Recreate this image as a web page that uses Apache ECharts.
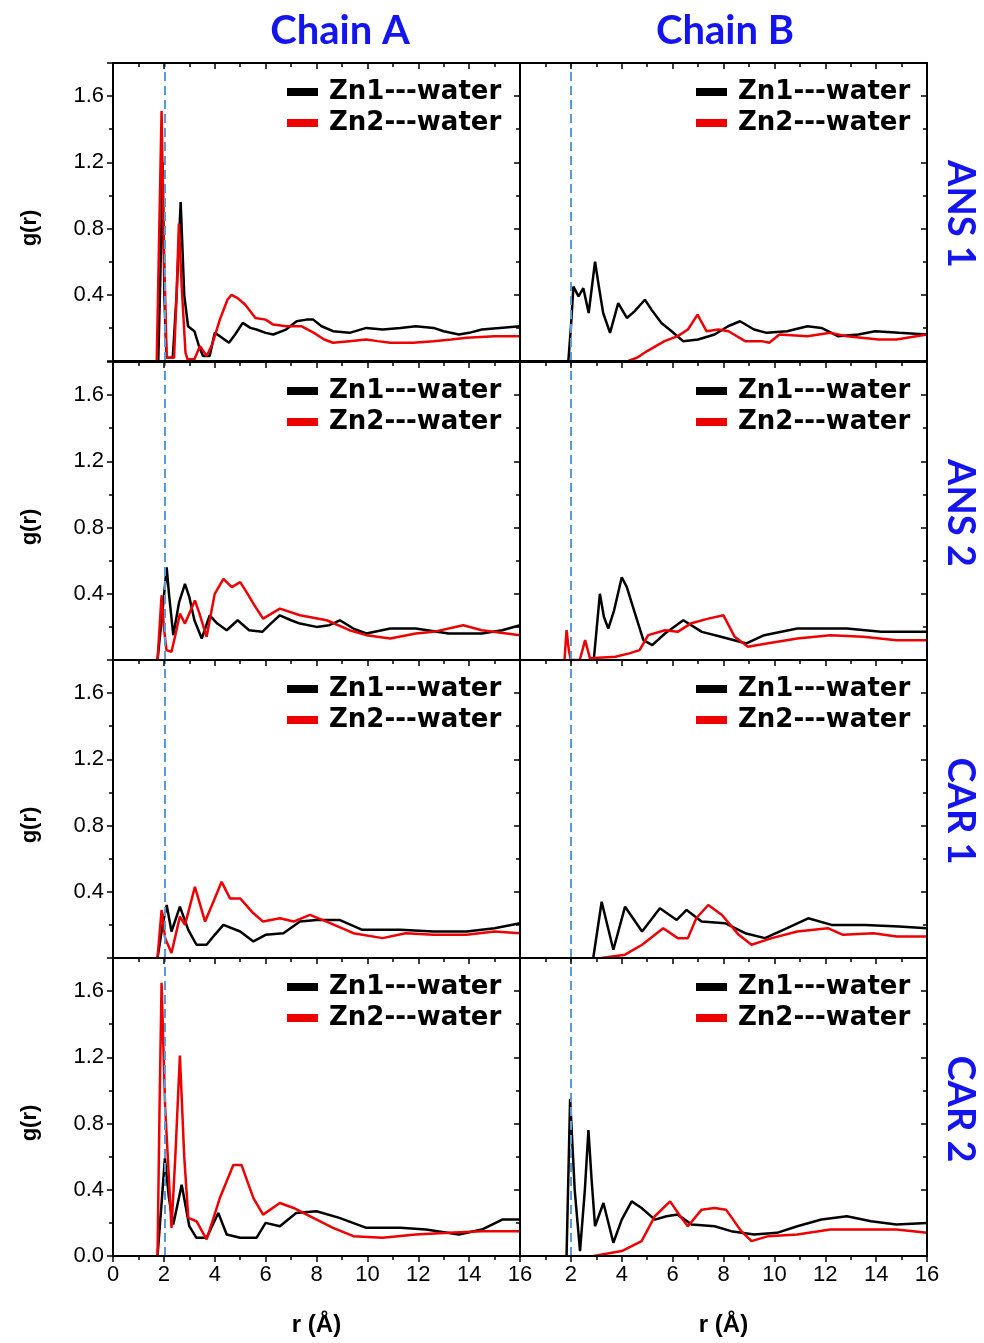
<!DOCTYPE html>
<html>
<head>
<meta charset="utf-8">
<script src="https://cdn.jsdelivr.net/npm/echarts@6/dist/echarts.min.js"></script>
<style>
  html, body { margin: 0; padding: 0; background: #fff; }
  #main { width: 984px; height: 1343px; }
</style>
</head>
<body>
<div id="main"></div>
<script>
// g(r) curves, [r (Å), g(r)] (each starts where the curve leaves zero)
const ans1A_zn1 = [[1.78, 0], [1.86, 0.5], [1.95, 1.2], [2.02, 0.4], [2.1, 0.02], [2.35, 0.02], [2.5, 0.4], [2.66, 0.96], [2.8, 0.4], [2.95, 0.21], [3.2, 0.18], [3.4, 0.08], [3.54, 0.03], [3.8, 0.03], [4.0, 0.17], [4.2, 0.15], [4.56, 0.11], [4.8, 0.16], [5.1, 0.23], [5.4, 0.2], [5.64, 0.19], [6.0, 0.17], [6.3, 0.16], [6.8, 0.19], [7.22, 0.24], [7.6, 0.25], [7.87, 0.25], [8.2, 0.21], [8.65, 0.18], [9.3, 0.17], [9.96, 0.2], [10.6, 0.19], [11.3, 0.2], [11.9, 0.21], [12.6, 0.2], [13.0, 0.18], [13.6, 0.16], [14.0, 0.17], [14.5, 0.19], [15.2, 0.2], [16, 0.21]]
const ans1A_zn2 = [[1.72, 0], [1.82, 0.8], [1.91, 1.51], [2.0, 0.7], [2.11, 0.02], [2.4, 0.02], [2.5, 0.4], [2.59, 0.83], [2.7, 0.45], [2.85, 0.05], [2.93, 0.01], [3.2, 0.01], [3.42, 0.09], [3.55, 0.06], [3.68, 0.03], [3.9, 0.1], [4.2, 0.25], [4.5, 0.37], [4.66, 0.4], [4.9, 0.38], [5.2, 0.34], [5.6, 0.26], [6.0, 0.25], [6.3, 0.22], [6.8, 0.21], [7.4, 0.21], [7.9, 0.17], [8.3, 0.13], [8.65, 0.11], [9.3, 0.12], [9.95, 0.13], [10.4, 0.12], [10.9, 0.11], [11.8, 0.11], [12.6, 0.12], [13.3, 0.13], [13.9, 0.14], [15, 0.15], [16, 0.15]]
const ans1B_zn1 = [[1.9, 0], [2.0, 0.2], [2.1, 0.45], [2.3, 0.39], [2.49, 0.44], [2.7, 0.29], [2.95, 0.6], [3.1, 0.45], [3.27, 0.29], [3.54, 0.17], [3.86, 0.35], [4.2, 0.26], [4.5, 0.3], [4.91, 0.37], [5.17, 0.31], [5.56, 0.23], [5.96, 0.18], [6.41, 0.12], [7.0, 0.13], [7.65, 0.16], [8.18, 0.21], [8.65, 0.24], [9.2, 0.19], [9.7, 0.17], [10.5, 0.18], [11.3, 0.21], [11.85, 0.2], [12.5, 0.15], [13.3, 0.16], [13.96, 0.18], [14.9, 0.17], [16, 0.16]]
const ans1B_zn2 = [[4.26, 0], [4.6, 0.02], [5.0, 0.06], [5.68, 0.12], [6.2, 0.15], [6.6, 0.19], [6.98, 0.28], [7.33, 0.18], [7.8, 0.19], [8.2, 0.18], [8.85, 0.12], [9.5, 0.12], [9.8, 0.11], [10.2, 0.16], [11.3, 0.15], [12.2, 0.17], [12.85, 0.15], [14.1, 0.13], [14.8, 0.13], [16, 0.16]]
const ans2A_zn1 = [[1.75, 0], [1.95, 0.3], [2.11, 0.56], [2.2, 0.4], [2.37, 0.15], [2.6, 0.35], [2.83, 0.46], [3.0, 0.38], [3.2, 0.24], [3.49, 0.13], [3.8, 0.27], [4.1, 0.22], [4.47, 0.18], [4.9, 0.24], [5.35, 0.18], [5.87, 0.17], [6.2, 0.22], [6.56, 0.27], [7.0, 0.24], [7.35, 0.22], [8.0, 0.2], [8.5, 0.21], [8.92, 0.24], [9.45, 0.19], [9.96, 0.16], [10.9, 0.19], [11.9, 0.19], [13.2, 0.16], [14.5, 0.16], [15.3, 0.18], [16, 0.21]]
const ans2A_zn2 = [[1.75, 0], [1.91, 0.39], [2.0, 0.2], [2.1, 0.06], [2.3, 0.05], [2.45, 0.15], [2.63, 0.28], [2.83, 0.22], [3.22, 0.36], [3.4, 0.28], [3.68, 0.14], [4.0, 0.4], [4.34, 0.49], [4.67, 0.44], [5.0, 0.47], [5.25, 0.41], [5.52, 0.34], [5.9, 0.25], [6.56, 0.31], [7.35, 0.27], [8.4, 0.24], [9.3, 0.18], [9.96, 0.15], [10.9, 0.13], [11.9, 0.16], [12.6, 0.17], [13.77, 0.21], [14.5, 0.18], [16, 0.15]]
const ans2B_zn1 = [[2.9, 0], [3.14, 0.4], [3.3, 0.26], [3.47, 0.19], [3.7, 0.3], [4.0, 0.5], [4.2, 0.44], [4.4, 0.34], [4.85, 0.12], [5.2, 0.09], [5.7, 0.16], [6.42, 0.24], [7.15, 0.17], [7.9, 0.14], [8.9, 0.1], [9.6, 0.15], [10.9, 0.19], [12.85, 0.19], [14.2, 0.17], [16, 0.17]]
const ans2B_zn2 = [[1.75, 0], [1.83, 0.18], [1.92, 0.06], [2.0, 0], [2.35, 0], [2.56, 0.12], [2.75, 0.01], [3.75, 0.02], [4.3, 0.04], [4.7, 0.06], [5.04, 0.15], [5.7, 0.18], [6.2, 0.17], [6.7, 0.22], [7.4, 0.25], [8.0, 0.27], [8.44, 0.14], [8.96, 0.08], [9.7, 0.1], [10.9, 0.13], [12.2, 0.15], [13.5, 0.14], [14.8, 0.12], [16, 0.12]]
const car1A_zn1 = [[1.75, 0], [1.95, 0.2], [2.11, 0.32], [2.3, 0.16], [2.63, 0.31], [2.96, 0.17], [3.28, 0.08], [3.68, 0.08], [4.0, 0.14], [4.34, 0.2], [5.0, 0.16], [5.52, 0.1], [6.0, 0.14], [6.7, 0.15], [7.35, 0.22], [8.0, 0.23], [8.9, 0.23], [9.8, 0.17], [11.3, 0.17], [12.6, 0.16], [13.9, 0.16], [15.0, 0.18], [16, 0.21]]
const car1A_zn2 = [[1.75, 0], [1.91, 0.29], [2.05, 0.12], [2.3, 0.03], [2.63, 0.25], [2.83, 0.2], [3.22, 0.43], [3.62, 0.22], [4.0, 0.36], [4.27, 0.46], [4.6, 0.36], [5.0, 0.36], [5.52, 0.27], [5.9, 0.22], [6.56, 0.24], [7.1, 0.22], [7.74, 0.26], [8.4, 0.22], [9.45, 0.15], [10.6, 0.12], [11.5, 0.15], [12.6, 0.14], [13.9, 0.14], [15.0, 0.16], [16, 0.15]]
const car1B_zn1 = [[2.88, 0], [3.21, 0.34], [3.67, 0.05], [4.13, 0.31], [4.8, 0.16], [5.5, 0.3], [6.16, 0.23], [6.55, 0.29], [7.14, 0.22], [8.06, 0.21], [8.85, 0.15], [9.63, 0.12], [10.5, 0.18], [11.33, 0.24], [12.25, 0.2], [13.56, 0.2], [14.9, 0.19], [16, 0.18]]
const car1B_zn2 = [[3.2, 0], [4.13, 0.02], [4.8, 0.08], [5.63, 0.18], [6.2, 0.12], [6.6, 0.12], [6.93, 0.24], [7.4, 0.32], [7.94, 0.26], [8.6, 0.14], [9.1, 0.08], [9.9, 0.12], [10.9, 0.16], [12.1, 0.18], [12.7, 0.14], [13.9, 0.15], [14.8, 0.13], [16, 0.13]]
const car2A_zn1 = [[1.75, 0], [1.9, 0.3], [2.04, 0.59], [2.2, 0.35], [2.37, 0.19], [2.7, 0.43], [3.0, 0.18], [3.28, 0.11], [3.68, 0.11], [4.14, 0.26], [4.47, 0.13], [5.0, 0.11], [5.64, 0.11], [6.0, 0.2], [6.56, 0.18], [7.2, 0.26], [8.0, 0.27], [8.9, 0.23], [9.96, 0.17], [11.3, 0.17], [12.3, 0.16], [13.6, 0.13], [14.5, 0.16], [15.3, 0.22], [16, 0.22]]
const car2A_zn2 = [[1.75, 0], [1.83, 0.9], [1.91, 1.65], [2.05, 0.9], [2.3, 0.17], [2.45, 0.6], [2.63, 1.21], [2.8, 0.6], [2.96, 0.23], [3.28, 0.21], [3.68, 0.1], [4.2, 0.35], [4.73, 0.55], [5.05, 0.55], [5.52, 0.35], [5.9, 0.25], [6.56, 0.32], [7.1, 0.29], [7.87, 0.23], [8.65, 0.17], [9.45, 0.12], [10.6, 0.11], [11.9, 0.13], [13.2, 0.14], [14.5, 0.15], [16, 0.15]]
const car2B_zn1 = [[1.83, 0], [1.97, 0.95], [2.15, 0.4], [2.36, 0.03], [2.55, 0.4], [2.69, 0.76], [2.82, 0.45], [2.95, 0.18], [3.28, 0.32], [3.67, 0.08], [4.0, 0.22], [4.39, 0.33], [4.78, 0.29], [5.3, 0.22], [5.76, 0.24], [6.2, 0.25], [6.75, 0.19], [7.65, 0.18], [8.3, 0.15], [9.2, 0.13], [10.1, 0.14], [10.9, 0.18], [11.85, 0.22], [12.85, 0.24], [13.8, 0.21], [14.8, 0.19], [16, 0.2]]
const car2B_zn2 = [[2.9, 0], [4.0, 0.03], [4.78, 0.09], [5.3, 0.24], [5.9, 0.33], [6.3, 0.24], [6.6, 0.18], [7.14, 0.28], [7.65, 0.29], [8.1, 0.28], [8.7, 0.15], [9.1, 0.09], [9.76, 0.12], [10.9, 0.13], [12.2, 0.16], [13.56, 0.16], [14.8, 0.16], [16, 0.14]]

const seriesNames = ['Zn1---water', 'Zn2---water']
const chainTitles = ['Chain A', 'Chain B']
const rowLabels = ['ANS 1', 'ANS 2', 'CAR 1', 'CAR 2']
// panels[row][col] = [zn1, zn2]
const panels = [
  [[ans1A_zn1, ans1A_zn2], [ans1B_zn1, ans1B_zn2]],
  [[ans2A_zn1, ans2A_zn2], [ans2B_zn1, ans2B_zn2]],
  [[car1A_zn1, car1A_zn2], [car1B_zn1, car1B_zn2]],
  [[car2A_zn1, car2A_zn2], [car2B_zn1, car2B_zn2]]
]
const cutoffR = [2.04, 1.98]

const colLeft = [113, 520]
const titleX = [340, 725]
const rowTop = [63, 362, 660, 958]
const plotW = 407
const plotH = 298
const lineColors = ['#000000', '#ee0000']
const blue = '#1414ee'

const chart = echarts.init(document.getElementById('main'), null, { renderer: 'canvas' })

const grids = []
const xAxes = []
const yAxes = []
const series = []
const legends = []

const frameLine = { show: true, onZero: false, lineStyle: { color: '#000', width: 2 } }
const tickStyle = { color: '#000', width: 1.5 }

panels.forEach((row, r) => {
  row.forEach((curves, c) => {
    const p = grids.length
    grids.push({ left: colLeft[c], top: rowTop[r], width: plotW, height: plotH, containLabel: false })

    const xBase = {
      gridIndex: p,
      type: 'value',
      min: 0,
      max: 16,
      interval: 2,
      z: 10,
      splitLine: { show: false },
      axisLine: frameLine,
      minorTick: { show: true, splitNumber: 2, length: 4, lineStyle: tickStyle }
    }
    xAxes.push(Object.assign({}, xBase, {
      position: 'bottom',
      axisTick: { inside: false, length: 6, lineStyle: tickStyle },
      axisLabel: {
        show: r === 3,
        color: '#000',
        fontSize: 22,
        fontFamily: 'Liberation Sans',
        margin: 8,
        formatter: v => (c === 1 && v === 0) ? '' : String(v)
      }
    }))
    xAxes.push(Object.assign({}, xBase, {
      position: 'top',
      axisTick: { inside: true, length: 6, lineStyle: tickStyle },
      axisLabel: { show: false }
    }))

    const yBase = {
      gridIndex: p,
      type: 'value',
      min: 0,
      max: 1.8,
      interval: 0.4,
      z: 10,
      splitLine: { show: false },
      axisLine: frameLine,
      minorTick: { show: true, splitNumber: 2, length: 4, lineStyle: tickStyle }
    }
    yAxes.push(Object.assign({}, yBase, {
      position: 'left',
      axisTick: { inside: false, length: 6, lineStyle: tickStyle },
      axisLabel: {
        show: c === 0,
        color: '#000',
        fontSize: 22,
        fontFamily: 'Liberation Sans',
        margin: 9,
        formatter: v => {
          if (v > 1.7) return ''
          if (v === 0 && r < 3) return ''
          return v.toFixed(1)
        }
      }
    }))
    yAxes.push(Object.assign({}, yBase, {
      position: 'right',
      axisTick: { inside: true, length: 6, lineStyle: tickStyle },
      axisLabel: { show: false }
    }))

    curves.forEach((data, k) => {
      const s = {
        name: seriesNames[k],
        type: 'line',
        xAxisIndex: 2 * p,
        yAxisIndex: 2 * p,
        data: data,
        showSymbol: false,
        symbol: 'none',
        clip: true,
        animation: false,
        lineStyle: { color: lineColors[k], width: 2.5 },
        itemStyle: { color: lineColors[k] },
        z: 3 + k
      }
      if (k === 1) {
        s.markLine = {
          silent: true,
          symbol: 'none',
          animation: false,
          label: { show: false },
          lineStyle: { type: [9, 5], color: '#5b9bd5', width: 2 },
          data: [{ xAxis: cutoffR[c] }]
        }
      }
      series.push(s)
    })

    legends.push({
      left: c === 0 ? 287 : 696,
      top: rowTop[r] + 16,
      orient: 'vertical',
      align: 'left',
      padding: 0,
      itemGap: 5,
      itemWidth: 31,
      itemHeight: 8,
      icon: 'rect',
      selectedMode: false,
      data: seriesNames,
      textStyle: {
        color: '#000',
        fontSize: 26,
        fontWeight: 'bold',
        fontFamily: 'DejaVu Sans',
        lineHeight: 26,
        padding: [0, 0, 0, 6]
      }
    })
  })
})

const graphics = []
chainTitles.forEach((t, c) => {
  graphics.push({
    type: 'text',
    x: titleX[c],
    y: 31,
    style: { text: t, font: 'bold 40px Lato', fill: blue, textAlign: 'center', textVerticalAlign: 'middle', verticalAlign: 'middle' }
  })
})
rowLabels.forEach((t, r) => {
  graphics.push({
    type: 'text',
    x: 960,
    y: rowTop[r] + plotH / 2 + 2,
    rotation: -Math.PI / 2,
    style: { text: t, font: 'bold 38px Lato', fill: blue, textAlign: 'center', textVerticalAlign: 'middle', verticalAlign: 'middle' }
  })
  graphics.push({
    type: 'text',
    x: 30,
    y: rowTop[r] + plotH / 2 + 16,
    rotation: Math.PI / 2,
    style: { text: 'g(r)', font: 'bold 22px "Liberation Sans"', fill: '#000', textAlign: 'center', textVerticalAlign: 'middle', verticalAlign: 'middle' }
  })
})
colLeft.forEach(l => {
  graphics.push({
    type: 'text',
    x: l + plotW / 2,
    y: 1325,
    style: { text: 'r (Å)', font: 'bold 24px "Liberation Sans"', fill: '#000', textAlign: 'center', textVerticalAlign: 'middle', verticalAlign: 'middle' }
  })
})

chart.setOption({
  backgroundColor: '#fff',
  animation: false,
  grid: grids,
  xAxis: xAxes,
  yAxis: yAxes,
  legend: legends,
  series: series,
  graphic: graphics
})
</script>
</body>
</html>
